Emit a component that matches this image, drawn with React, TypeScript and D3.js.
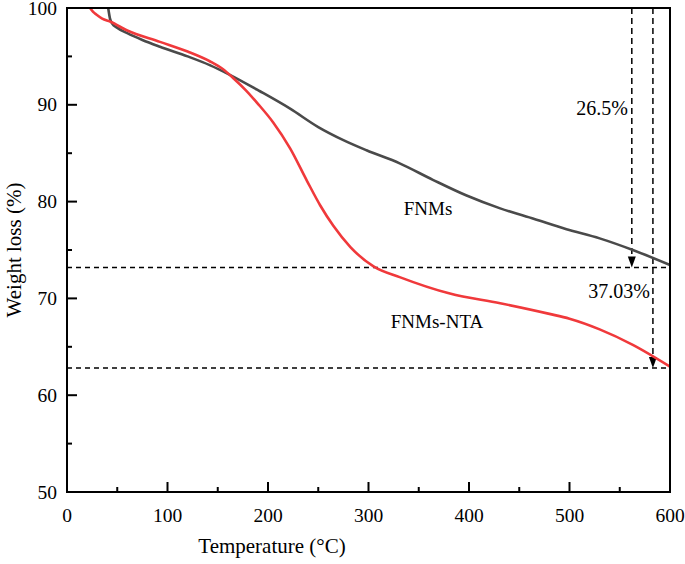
import React from "react";
import * as d3 from "d3";

const fnmsT = [41, 42.8, 45, 49.4, 60, 75, 92.5, 120, 142, 162, 192, 222, 250, 275, 298, 331, 364, 397, 431, 465, 497, 530, 563, 600];
const fnmsW = [100, 98.9, 98.4, 98.0, 97.4, 96.7, 96.0, 95.0, 94.1, 93.1, 91.4, 89.6, 87.7, 86.35, 85.3, 83.95, 82.25, 80.65, 79.3, 78.2, 77.15, 76.2, 75.0, 73.45];

const ntaT = [22.9, 26, 29.5, 35, 42.8, 59.4, 92.5, 120, 142, 155, 165, 178, 190, 205, 222, 239, 252, 265, 282, 305, 331, 381, 431, 480, 500, 530, 563, 600];
const ntaW = [100, 99.6, 99.3, 98.9, 98.6, 97.7, 96.5, 95.5, 94.5, 93.7, 92.8, 91.5, 90.1, 88.2, 85.5, 82.1, 79.6, 77.5, 75.3, 73.3, 72.2, 70.5, 69.5, 68.4, 67.9, 66.8, 65.2, 62.95];

const xTicks = [0, 100, 200, 300, 400, 500, 600];
const yTicks = [50, 60, 70, 80, 90, 100];
const xMinor = [50, 150, 250, 350, 450, 550];
const yMinor = [55, 65, 75, 85, 95];

const levelFnms = 73.2;
const levelNta = 62.8;
const arrowFnmsT = 562;
const arrowNtaT = 583;

const FONT = "'Liberation Serif', 'Times New Roman', serif";

export default function App() {
  const W = 685, H = 564;
  const x = d3.scaleLinear().domain([0, 600]).range([67, 670]);
  const y = d3.scaleLinear().domain([50, 100]).range([492, 8]);

  const line = d3
    .line<[number, number]>()
    .x((d) => x(d[0]))
    .y((d) => y(d[1]))
    .curve(d3.curveMonotoneX);

  const fnmsPts = fnmsT.map((t, i) => [t, fnmsW[i]] as [number, number]);
  const ntaPts = ntaT.map((t, i) => [t, ntaW[i]] as [number, number]);

  const arrow = (t: number, level: number, key: string) => {
    const px = x(t);
    const tip = y(level);
    return (
      <g key={key}>
        <line x1={px} x2={px} y1={y(100)} y2={tip - 8} stroke="#000" strokeWidth={1.5} strokeDasharray="6,4" />
        <path d={`M${px - 4},${tip - 11} L${px + 4},${tip - 11} L${px},${tip} Z`} fill="#000" />
      </g>
    );
  };

  return (
    <svg width={W} height={H} style={{ position: "absolute", left: 0, top: 0, background: "#fff" }} fontFamily={FONT}>
      <rect x={0} y={0} width={W} height={H} fill="#fff" />
      {[levelFnms, levelNta].map((lv, i) => (
        <line key={"h" + i} x1={x(0)} x2={x(600)} y1={y(lv)} y2={y(lv)} stroke="#000" strokeWidth={1.5} strokeDasharray="5,4" />
      ))}
      {arrow(arrowFnmsT, levelFnms, "a1")}
      {arrow(arrowNtaT, levelNta, "a2")}

      <path d={line(fnmsPts) || ""} fill="none" stroke="#4a4a4a" strokeWidth={2.6} />
      <path d={line(ntaPts) || ""} fill="none" stroke="#f0393b" strokeWidth={2.6} />

      <rect x={x(0)} y={y(100)} width={x(600) - x(0)} height={y(50) - y(100)} fill="none" stroke="#000" strokeWidth={2} />

      {xTicks.map((t) => (
        <g key={"xt" + t}>
          <line x1={x(t)} x2={x(t)} y1={y(50)} y2={y(50) - 10} stroke="#000" strokeWidth={2} />
          <text x={x(t)} y={522} textAnchor="middle" fontSize={19.5} fill="#000">{t}</text>
        </g>
      ))}
      {xMinor.map((t) => (
        <line key={"xm" + t} x1={x(t)} x2={x(t)} y1={y(50)} y2={y(50) - 5} stroke="#000" strokeWidth={2} />
      ))}
      {yTicks.map((v) => (
        <g key={"yt" + v}>
          <line x1={x(0)} x2={x(0) + 10} y1={y(v)} y2={y(v)} stroke="#000" strokeWidth={2} />
          <text x={57} y={y(v) + 6.5} textAnchor="end" fontSize={19.5} fill="#000">{v}</text>
        </g>
      ))}
      {yMinor.map((v) => (
        <line key={"ym" + v} x1={x(0)} x2={x(0) + 5} y1={y(v)} y2={y(v)} stroke="#000" strokeWidth={2} />
      ))}

      <text x={272} y={553} textAnchor="middle" fontSize={21} fill="#000">Temperature (°C)</text>
      <text transform={`translate(21,250) rotate(-90)`} textAnchor="middle" fontSize={21} fill="#000">Weight loss (%)</text>

      <text x={428} y={215} textAnchor="middle" fontSize={19} fill="#000">FNMs</text>
      <text x={437} y={328} textAnchor="middle" fontSize={19} fill="#000">FNMs-NTA</text>
      <text x={628} y={115} textAnchor="end" fontSize={20} fill="#000">26.5%</text>
      <text x={650} y={298} textAnchor="end" fontSize={20} fill="#000">37.03%</text>
    </svg>
  );
}
